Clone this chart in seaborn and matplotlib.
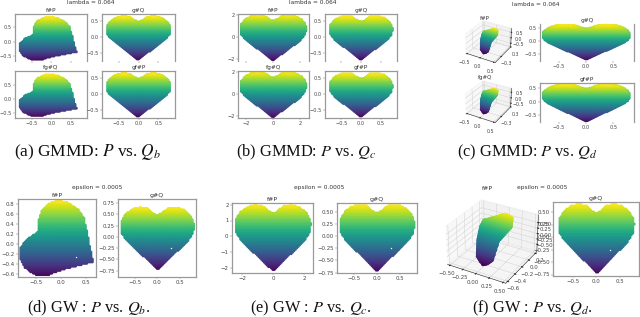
import numpy as np
import pandas as pd
import seaborn as sns
import matplotlib
matplotlib.use('Agg')
import matplotlib.pyplot as plt
from matplotlib.path import Path

sns.set_style('white')
plt.rcParams['font.family'] = ['DejaVu Sans']
plt.rcParams['mathtext.fontset'] = 'stix'
plt.rcParams['grid.linewidth'] = 0.3
plt.rcParams['axes.linewidth'] = 0.4

W, H = 640, 317

heart_x = [0, 0.25, 0.5, 0.68, 0.78, 0.81, 0.78, 0.69, 0.55, 0.38, 0.22, 0.1, 0,
           -0.1, -0.22, -0.38, -0.55, -0.69, -0.78, -0.81, -0.78, -0.68, -0.5, -0.25]
heart_y = [-0.73, -0.48, -0.26, -0.08, 0.07, 0.25, 0.38, 0.52, 0.62, 0.66, 0.63, 0.53, 0.48,
           0.53, 0.63, 0.66, 0.62, 0.52, 0.38, 0.25, 0.07, -0.08, -0.26, -0.48]

# same heart on the wider scale of the f#P panels in (b) and (e)
big_x = [0, 0.75, 1.5, 2.05, 2.35, 2.45, 2.35, 2.1, 1.65, 1.15, 0.65, 0.3, 0,
         -0.3, -0.65, -1.15, -1.65, -2.1, -2.35, -2.45, -2.35, -2.05, -1.5, -0.75]
big_y = [-2.17, -1.45, -0.8, -0.25, 0.2, 0.75, 1.15, 1.55, 1.85, 2.0, 1.9, 1.6, 1.45,
         1.6, 1.9, 2.0, 1.85, 1.55, 1.15, 0.75, 0.2, -0.25, -0.8, -1.45]

# rotated heart of the f#P panels in (a) and (d)
rot_x = [0.64, 0.11, -0.32, -0.53, -0.73, -0.83, -0.8, -0.66, -0.45, -0.46, -0.38, -0.22,
         -0.05, 0.15, 0.35, 0.46, 0.52, 0.57]
rot_y = [-0.35, -0.48, -0.63, -0.6, -0.46, -0.25, -0.05, 0.12, 0.25, 0.45, 0.69, 0.82,
         0.87, 0.82, 0.69, 0.52, 0.25, -0.02]

# heart seen from the side, panels (c) and (f)
side_x = [0.04, -0.13, -0.27, -0.33, -0.34, -0.13, 0.0, 0.16, 0.22, 0.12, 0.17, 0.12]
side_z = [-0.66, -0.51, -0.09, 0.21, 0.40, 0.59, 0.71, 0.65, 0.40, 0.0, -0.49, -0.59]

q_xticks = [-0.5, 0.0, 0.5]
q_yticks = [-0.5, 0.0, 0.5]
q_yticks_fine = [-0.75, -0.5, -0.25, 0.0, 0.25, 0.5, 0.75]
q_yticks_e = [-0.75, -0.5, -0.25, 0.0, 0.25, 0.5]
big_ticks = [-2, 0, 2]
big_yticks_e = [-2, -1, 0, 1, 2]
rot_yticks_d = [-0.6, -0.4, -0.2, 0.0, 0.2, 0.4, 0.6, 0.8]

specks_x = [0.3]
specks_y = [-0.25]


def shape_points(xs, ys, step):
    # lattice of points inside an outline
    gx, gy = np.meshgrid(np.arange(min(xs), max(xs), step), np.arange(min(ys), max(ys), step))
    pts = np.column_stack([gx.ravel(), gy.ravel()])
    keep = Path(np.column_stack([xs, ys])).contains_points(pts)
    return pd.DataFrame(pts[keep], columns=['x', 'y'])


def panel(box, xs, ys, xlim, ylim, xticks, yticks, title, labels=True, hide=(), fs=3.6, specks=False):
    x0, x1, y0, y1 = box
    ax = fig.add_axes([x0 / W, 1 - y1 / H, (x1 - x0) / W, (y1 - y0) / H])
    step = (xlim[1] - xlim[0]) / ((x1 - x0) / 1.4)
    df = shape_points(xs, ys, step)
    sns.scatterplot(data=df, x='x', y='y', hue='y', palette='viridis', hue_norm=(min(ys), max(ys)),
                    s=4.5, linewidth=0, legend=False, ax=ax)
    if specks:
        sns.scatterplot(x=specks_x, y=specks_y, color='white', s=1, linewidth=0, ax=ax)
    ax.set_xlim(xlim)
    ax.set_ylim(ylim)
    ax.set_xticks(xticks)
    ax.set_yticks(yticks)
    ax.set_xlabel('')
    ax.set_ylabel('')
    ax.tick_params(length=1.5, width=0.3, pad=1, labelsize=fs, labelcolor='#444444', color='#666666',
                   bottom=True, left=True)
    if not labels:
        ax.set_xticklabels([])
    for side, sp in ax.spines.items():
        sp.set_color('#999999')
        sp.set_linewidth(0.9)
        sp.set_visible(side not in hide)
    ax.set_title(title, fontsize=fs + 0.6, pad=1.2, color='#333333')
    return ax


def panel3d(box, xticks, yticks, zticks, title, title_xy, fs=3.4, dot=0.8):
    x0, x1, y0, y1 = box
    ax = fig.add_axes([x0 / W, 1 - y1 / H, (x1 - x0) / W, (y1 - y0) / H], projection='3d')
    df = shape_points(side_x, side_z, 0.012)
    # the sheet leans back: higher points sit further along y
    ax.scatter(df['x'], -0.2 + 0.5 * df['y'], df['y'], c=df['y'], cmap='viridis', s=dot,
               linewidth=0, depthshade=False)
    ax.set_xlim(-0.55, 0.55)
    ax.set_ylim(-0.65, 0.25)
    ax.set_zlim(-0.85, 0.85)
    ax.set_xticks(xticks)
    ax.set_yticks(yticks)
    ax.set_zticks(zticks)
    ax.set_box_aspect((4, 4, 2.6), zoom=0.95)
    ax.tick_params(labelsize=fs, pad=-4.5, length=0, labelcolor='#444444')
    ax.patch.set_alpha(0)
    fig.text(title_xy[0] / W, 1 - title_xy[1] / H, title, fontsize=fs + 0.6, color='#333333',
             ha='center', va='center')
    return ax


def label(x, y, s, size=4.2):
    fig.text(x / W, 1 - y / H, s, fontsize=size, ha='center', va='center', color='#333333')


def caption(x, y, s, size=11.8):
    fig.text(x / W, 1 - y / H, s, fontsize=size, ha='left', va='center', family='Liberation Serif', color='#111111')


fig = plt.figure(figsize=(6.4, 3.17), dpi=100)

# (a)
panel((15, 87, 14, 61), rot_x, rot_y, (-0.93, 0.91), (-0.66, 0.96), q_xticks, q_yticks, 'f#P', False, ('bottom',))
panel((102, 175, 14, 61), heart_x, heart_y, (-0.92, 0.92), (-0.76, 0.72), q_xticks, q_yticks, 'g#Q', False, ('bottom',))
panel((15, 87, 71, 118), rot_x, rot_y, (-0.93, 0.91), (-0.69, 0.98), q_xticks, q_yticks, 'fg#Q')
panel((102, 175, 71, 118), heart_x, heart_y, (-0.92, 0.92), (-0.76, 0.72), q_xticks, q_yticks, 'gf#P')
label(91, 3, 'lambda = 0.064')
caption(14, 152, '(a) GMMD: $P$ vs. $Q_b$', 12.4)

# (b)
panel((238, 309, 14, 61), big_x, big_y, (-2.6, 2.63), (-2.2, 2.05), big_ticks, big_ticks, 'f#P', False, ('bottom',))
panel((325, 397, 14, 61), heart_x, heart_y, (-0.92, 0.92), (-0.76, 0.72), q_xticks, q_yticks, 'g#Q', False, ('bottom',))
panel((238, 309, 71, 118), big_x, big_y, (-2.6, 2.63), (-2.2, 2.05), big_ticks, big_ticks, 'fg#Q')
panel((325, 397, 71, 118), heart_x, heart_y, (-0.92, 0.92), (-0.76, 0.72), q_xticks, q_yticks, 'gf#P')
label(313, 3, 'lambda = 0.064')
caption(236, 152, '(b) GMMD: $P$ vs. $Q_c$')

# (c)
small_x3 = [-0.5, 0.0, 0.5]
small_y3 = [-0.3, 0.3]
small_z3 = [-0.5, 0.0, 0.5]
panel3d((457, 519, 15, 68), small_x3, small_y3, small_z3, 'f#P', (485, 18), dot=0.5)
panel3d((457, 519, 75, 128), small_x3, small_y3, small_z3, 'fg#Q', (485, 77), dot=0.5)
panel((540, 634, 24, 61), heart_x, heart_y, (-0.85, 0.88), (-0.79, 0.67), q_xticks, q_yticks, 'g#Q', True, ('top', 'bottom'))
panel((540, 634, 83, 122), heart_x, heart_y, (-0.85, 0.88), (-0.75, 0.7), q_xticks, q_yticks, 'gf#P', True, ('bottom',))
label(536, 4, 'lambda = 0.064')
caption(457, 152, '(c) GMMD: $P$ vs. $Q_d$')

# (d)
panel((18, 96, 199, 277), rot_x, rot_y, (-0.86, 0.7), (-0.65, 0.9), q_xticks, rot_yticks_d, 'f#P', fs=3.9, specks=True)
panel((118, 196, 199, 277), heart_x, heart_y, (-0.87, 0.85), (-0.89, 0.84), q_xticks, q_yticks_fine, 'g#Q', fs=3.9, specks=True)
label(97, 188, 'epsilon = 0.0005')
caption(27, 308.5, '(d) GW : $P$ vs. $Q_b$.')

# (e)
panel((232, 313, 203, 273), big_x, big_y, (-2.65, 2.58), (-2.3, 2.1), big_ticks, big_yticks_e, 'f#P', fs=3.9)
panel((337, 417, 203, 273), heart_x, heart_y, (-0.87, 0.86), (-0.76, 0.69), q_xticks, q_yticks_e, 'g#Q', fs=3.9, specks=True)
label(319, 188, 'epsilon = 0.0005')
caption(250, 308.5, '(e) GW : $P$ vs. $Q_c$.')

# (f)
panel3d((431, 552, 188, 294), [-0.5, -0.25, 0.0, 0.25, 0.5], [-0.6, -0.4, -0.2, 0.0, 0.2],
        [-0.5, -0.25, 0.0, 0.25, 0.5], 'f#P', (487, 189), fs=3.9, dot=1.5)
panel((553, 639, 202, 276), heart_x, heart_y, (-0.93, 0.91), (-0.78, 0.7), q_xticks, q_yticks_e, 'g#Q', fs=3.9, specks=True)
label(542, 188, 'epsilon = 0.0005')
caption(472, 308.5, '(f) GW : $P$ vs. $Q_d$.')

fig.savefig('out.png', dpi=100)
